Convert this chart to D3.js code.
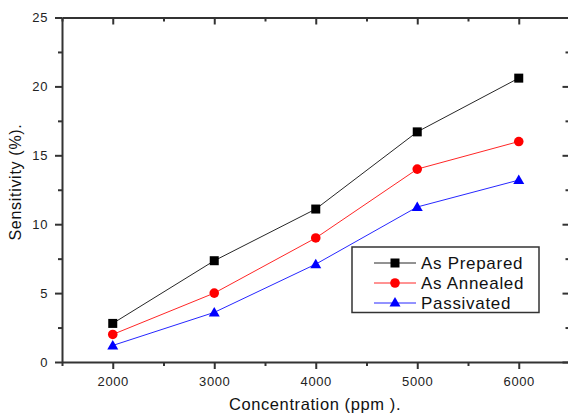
<!DOCTYPE html>
<html>
<head>
<meta charset="utf-8">
<script src="https://cdn.jsdelivr.net/npm/d3@7"></script>
<style>
  html, body { margin: 0; padding: 0; background: #fff; }
  svg { display: block; }
  text { font-family: "Liberation Sans", Arial, sans-serif; }
</style>
</head>
<body>
<svg id="chart" width="568" height="414"></svg>
<script>
// Gas concentration (ppm) vs sensor sensitivity (%)
const concentrations = [2000, 3000, 4000, 5000, 6000];
const asPrepared = [2.8, 7.35, 11.1, 16.7, 20.6];
const asAnnealed = [2.0, 5.0, 9.0, 14.0, 16.0];
const passivated = [1.2, 3.6, 7.1, 11.25, 13.2];

const seriesNames = ["As Prepared", "As Annealed", "Passivated"];
const seriesColors = ["#000000", "#ff0000", "#0000ff"];
const seriesShapes = ["square", "circle", "triangle"];

const xMajorTicks = [2000, 3000, 4000, 5000, 6000];
const xMinorTicks = [1500, 2500, 3500, 4500, 5500, 6500];
const yMajorTicks = [0, 5, 10, 15, 20, 25];
const yMinorTicks = [2.5, 7.5, 12.5, 17.5, 22.5];

const xTitle = "Concentration (ppm ).";
const yTitle = "Sensitivity (%).";

const series = [asPrepared, asAnnealed, passivated].map((vals, i) => ({
  name: seriesNames[i],
  color: seriesColors[i],
  shape: seriesShapes[i],
  points: concentrations.map((c, j) => ({ x: c, y: vals[j] }))
}));

const svg = d3.select("#chart");
const plotLeft = 62, plotRight = 569.5, plotTop = 17.5, plotBottom = 362;

const x = d3.scaleLinear().domain([1500, 6500]).range([plotLeft, plotRight]);
const y = d3.scaleLinear().domain([0, 25]).range([plotBottom, plotTop]);

const axisColor = "#333";
const fmt = d3.format("d");

function styleAxis(g) {
  g.selectAll("path.domain").attr("stroke", axisColor).attr("stroke-width", 2);
  g.selectAll(".tick line").attr("stroke", axisColor).attr("stroke-width", 2);
  g.selectAll(".tick text")
    .attr("fill", "#222")
    .style("font-size", "13px")
    .style("letter-spacing", "0.6px");
}

// bottom axis (labelled)
svg.append("g")
  .attr("transform", `translate(0,${plotBottom})`)
  .call(d3.axisBottom(x).tickValues(xMinorTicks).tickSize(4).tickSizeOuter(0).tickFormat(""))
  .call(styleAxis);
svg.append("g")
  .attr("transform", `translate(0,${plotBottom})`)
  .call(d3.axisBottom(x).tickValues(xMajorTicks).tickSize(7).tickSizeOuter(0).tickPadding(8).tickFormat(fmt))
  .call(styleAxis)
  .call(g => g.select("path.domain").remove());

// top mirror axis, ticks pointing inward
svg.append("g")
  .attr("transform", `translate(0,${plotTop})`)
  .call(d3.axisBottom(x).tickValues(xMinorTicks).tickSize(4).tickSizeOuter(0).tickFormat(""))
  .call(styleAxis);
svg.append("g")
  .attr("transform", `translate(0,${plotTop})`)
  .call(d3.axisBottom(x).tickValues(xMajorTicks).tickSize(7).tickSizeOuter(0).tickFormat(""))
  .call(styleAxis)
  .call(g => g.select("path.domain").remove());

// left axis (labelled)
svg.append("g")
  .attr("transform", `translate(${plotLeft},0)`)
  .call(d3.axisLeft(y).tickValues(yMinorTicks).tickSize(4).tickSizeOuter(0).tickFormat(""))
  .call(styleAxis);
svg.append("g")
  .attr("transform", `translate(${plotLeft},0)`)
  .call(d3.axisLeft(y).tickValues(yMajorTicks).tickSize(7).tickSizeOuter(0).tickPadding(7).tickFormat(fmt))
  .call(styleAxis)
  .call(g => g.select("path.domain").remove());

// right mirror axis, ticks pointing inward
svg.append("g")
  .attr("transform", `translate(${plotRight},0)`)
  .call(d3.axisLeft(y).tickValues(yMinorTicks).tickSize(4).tickSizeOuter(0).tickFormat(""))
  .call(styleAxis);
svg.append("g")
  .attr("transform", `translate(${plotRight},0)`)
  .call(d3.axisLeft(y).tickValues(yMajorTicks).tickSize(7).tickSizeOuter(0).tickFormat(""))
  .call(styleAxis)
  .call(g => g.select("path.domain").remove());

// axis titles
svg.append("text")
  .attr("x", 315).attr("y", 410)
  .attr("text-anchor", "middle")
  .attr("fill", "#111")
  .style("font-size", "16.5px")
  .style("letter-spacing", "0.6px")
  .text(xTitle);

svg.append("text")
  .attr("transform", "translate(21,182) rotate(-90)")
  .attr("text-anchor", "middle")
  .attr("fill", "#111")
  .style("font-size", "16px")
  .style("letter-spacing", "0.7px")
  .text(yTitle);

// marker drawing
function drawMarker(g, shape, color, cx, cy) {
  if (shape === "square") {
    g.append("rect").attr("x", cx - 4.5).attr("y", cy - 4.5)
      .attr("width", 9).attr("height", 9).attr("fill", color);
  } else if (shape === "circle") {
    g.append("circle").attr("cx", cx).attr("cy", cy).attr("r", 4.8).attr("fill", color);
  } else {
    g.append("path")
      .attr("d", `M${cx},${cy - 5.5}L${cx + 5.5},${cy + 4}L${cx - 5.5},${cy + 4}Z`)
      .attr("fill", color);
  }
}

const line = d3.line().x(d => x(d.x)).y(d => y(d.y));

const plot = svg.append("g");
series.forEach(s => {
  plot.append("path")
    .datum(s.points)
    .attr("d", line)
    .attr("fill", "none")
    .attr("stroke", s.color)
    .attr("stroke-width", 1)
    .attr("stroke-opacity", 0.85);
  const mg = plot.append("g");
  s.points.forEach(p => drawMarker(mg, s.shape, s.color, x(p.x), y(p.y)));
});

// legend
const legend = svg.append("g");
legend.append("rect")
  .attr("x", 352).attr("y", 247)
  .attr("width", 187).attr("height", 65.5)
  .attr("fill", "#fff")
  .attr("stroke", axisColor)
  .attr("stroke-width", 1.5);

series.forEach((s, i) => {
  const ly = 263 + i * 20;
  legend.append("line")
    .attr("x1", 374).attr("x2", 416)
    .attr("y1", ly).attr("y2", ly)
    .attr("stroke", s.color).attr("stroke-width", 1).attr("stroke-opacity", 0.85);
  drawMarker(legend, s.shape, s.color, 395, ly + (s.shape === "triangle" ? -0.5 : 0));
  legend.append("text")
    .attr("x", 421).attr("y", ly + 6)
    .attr("fill", "#111")
    .style("font-size", "17px")
    .style("letter-spacing", "0.7px")
    .text(s.name);
});
</script>
</body>
</html>
